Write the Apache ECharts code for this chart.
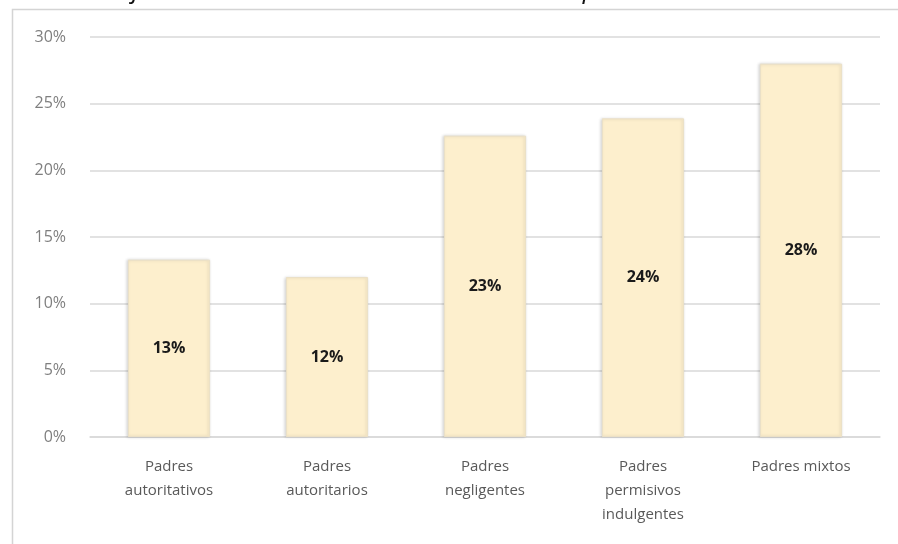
<!DOCTYPE html>
<html>
<head>
<meta charset="utf-8">
<script src="https://cdn.jsdelivr.net/npm/echarts@6/dist/echarts.min.js"></script>
<style>html,body{margin:0;padding:0;background:#fff;}#c{width:898px;height:544px;}</style>
</head>
<body>
<div id="c"></div>
<script>
var categories = ['Padres\nautoritativos', 'Padres\nautoritarios', 'Padres\nnegligentes', 'Padres\npermisivos\nindulgentes', 'Padres mixtos'];
var values = [13.3, 12.0, 22.6, 23.9, 28.0];
var labels = ['13%', '12%', '23%', '24%', '28%'];
var yTicks = [0, 5, 10, 15, 20, 25, 30];
var titleText = 'Gráfico 1. Características de la muestra de padres';

var chart = echarts.init(document.getElementById('c'));
chart.setOption({
  animation: false,
  backgroundColor: '#ffffff',
  graphic: [
    {
      type: 'rect', z: -10, silent: true,
      shape: { x: 12.5, y: 9.5, width: 900, height: 540 },
      style: { fill: '#ffffff', stroke: '#d4d4d4', lineWidth: 1.5 }
    },
    {
      type: 'text', silent: true,
      style: {
        text: titleText, x: 662, y: -22, textAlign: 'right', textVerticalAlign: 'top',
        fontSize: 26, fontStyle: 'italic', fontFamily: 'Open Sans', fill: '#111111'
      }
    }
  ],
  grid: { left: 90, right: 18, top: 37, bottom: 107 },
  xAxis: {
    type: 'category',
    data: categories,
    axisLine: { lineStyle: { color: '#d9d9d9', width: 1.5 } },
    axisTick: { show: false },
    axisLabel: {
      color: '#595959', fontSize: 15, fontFamily: 'Open Sans', lineHeight: 24, margin: 18,
      interval: 0, verticalAlign: 'top'
    }
  },
  yAxis: {
    type: 'value',
    min: 0, max: 30, interval: 5,
    axisLine: { show: false },
    axisTick: { show: false },
    splitLine: { lineStyle: { color: '#d9d9d9', width: 1.5 } },
    axisLabel: {
      color: '#7f7f7f', fontSize: 16, fontFamily: 'Open Sans', margin: 24,
      formatter: function (v) { return yTicks.indexOf(v) >= 0 ? v + '%' : ''; }
    }
  },
  series: [{
    type: 'bar',
    data: values,
    barWidth: '52%',
    itemStyle: {
      color: '#fdefcd',
      borderColor: '#ebe0c6', borderWidth: 1,
      shadowColor: 'rgba(0,0,0,0.15)', shadowBlur: 3, shadowOffsetX: -1
    },
    label: {
      show: true, position: 'inside',
      color: '#1a1a1a', fontWeight: 'bold', fontSize: 16, fontFamily: 'Open Sans',
      formatter: function (p) { return labels[p.dataIndex]; }
    }
  }]
});
</script>
</body>
</html>
